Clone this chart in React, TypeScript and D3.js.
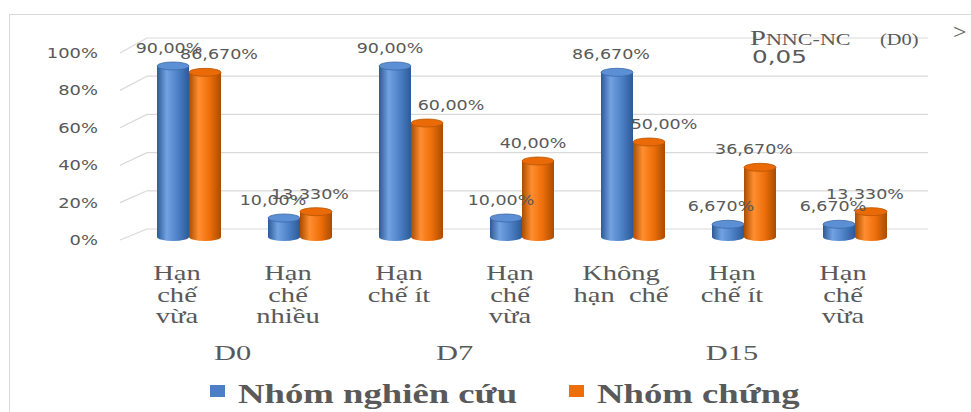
import React from 'react';
import * as d3 from 'd3';

const groups = ['D0', 'D7', 'D15'];
const categoryGroup = ['D0', 'D0', 'D7', 'D7', 'D15', 'D15', 'D15'];
const categoryLines = [
  ['Hạn', 'chế', 'vừa'],
  ['Hạn', 'chế', 'nhiều'],
  ['Hạn', 'chế ít'],
  ['Hạn', 'chế', 'vừa'],
  ['Không', 'hạn  chế'],
  ['Hạn', 'chế ít'],
  ['Hạn', 'chế', 'vừa']
];
const seriesNames = ['Nhóm nghiên cứu', 'Nhóm chứng'];
const studyValues = [0.9, 0.1, 0.9, 0.1, 0.8667, 0.0667, 0.0667];
const controlValues = [0.8667, 0.1333, 0.6, 0.4, 0.5, 0.3667, 0.1333];
const studyLabels = ['90,00%', '10,00%', '90,00%', '10,00%', '86,670%', '6,670%', '6,670%'];
const controlLabels = ['86,670%', '13,330%', '60,00%', '40,00%', '50,00%', '36,670%', '13,330%'];
const yTicks = [0, 0.2, 0.4, 0.6, 0.8, 1];

// manual label nudges, like the hand-moved labels in the original
const studyNudge = [-4, -11, -5, -5, -6, -7, -6];
const controlNudge = [14, -6, 24, -5, 15, -6, -6];

const W = 971;
const H = 412;
const GRAY = '#595959';
const SX = 1.33;
const SERIF = '"Liberation Serif", "Times New Roman", serif';
const SANS = '"DejaVu Sans", Verdana, sans-serif';

const T = ({ x, y, size, family = SERIF, weight = 'normal', anchor = 'middle', sx = SX, fill = GRAY, children }: any) => (
  <text
    transform={`translate(${x},${y}) scale(${sx},1)`}
    fontSize={size}
    fontFamily={family}
    fontWeight={weight}
    textAnchor={anchor}
    fill={fill}
  >
    {children}
  </text>
);

const colors = [
  { dark: '#2C5A96', light: '#72A2E2', main: '#4C80C6', top: '#5D8FD4', edge: '#3B6AA8' },
  { dark: '#A94C00', light: '#FF8E30', main: '#EE6E0A', top: '#EA6A08', edge: '#B95600' }
];

export default function App() {
  const x = d3.scaleBand<number>().domain(d3.range(categoryLines.length)).range([121.5, 898.5]);
  const yFront = d3.scaleLinear().domain([0, 1]).range([240, 53]);
  const yBack = d3.scaleLinear().domain([0, 1]).range([229, 38]);
  const yBar = d3.scaleLinear().domain([0, 1]).range([237, 47]);
  const barW = 32;
  const ry = 4;

  const cylinder = (cx: number, v: number, s: number, key: string) => {
    const top = yBar(v);
    const bottom = yBar(0);
    const c = colors[s];
    return (
      <g key={key}>
        <ellipse cx={cx} cy={bottom} rx={barW / 2} ry={ry} fill={`url(#g${s})`} />
        <rect x={cx - barW / 2} y={top} width={barW} height={bottom - top} fill={`url(#g${s})`} />
        <ellipse cx={cx} cy={top} rx={barW / 2} ry={ry} fill={c.top} stroke={c.edge} strokeWidth={0.8} />
      </g>
    );
  };

  const series = [
    { values: studyValues, labels: studyLabels, nudge: studyNudge, off: -barW / 2 },
    { values: controlValues, labels: controlLabels, nudge: controlNudge, off: barW / 2 }
  ];

  return (
    <svg width={W} height={H} style={{ position: 'absolute', left: 0, top: 0, background: '#fff' }}>
      <defs>
        {colors.map((c, i) => (
          <linearGradient key={i} id={`g${i}`} x1="0" x2="1" y1="0" y2="0">
            <stop offset="0" stopColor={c.dark} />
            <stop offset="0.3" stopColor={c.light} />
            <stop offset="0.65" stopColor={c.main} />
            <stop offset="1" stopColor={c.dark} />
          </linearGradient>
        ))}
      </defs>
      {/* chart frame */}
      <line x1={9} x2={W} y1={14.5} y2={14.5} stroke="#d9d9d9" />
      <line x1={9.5} x2={9.5} y1={14} y2={H} stroke="#d9d9d9" />

      {/* 3D gridlines: side wall diagonal + back wall */}
      {yTicks.map(t => (
        <g key={t}>
          <line x1={120} y1={yFront(t)} x2={147} y2={yBack(t)} stroke="#d9d9d9" strokeWidth={1.2} />
          <line x1={147} y1={yBack(t)} x2={928} y2={yBack(t)} stroke="#d9d9d9" strokeWidth={1.2} />
          <T x={98} y={yFront(t) + 5} size={14} family={SANS} anchor="end" sx={1.28}>
            {`${Math.round(t * 100)}%`}
          </T>
        </g>
      ))}

      {/* bars */}
      {categoryLines.map((_, i) => {
        const cx = (x(i) as number) + x.bandwidth() / 2 + 12;
        return series.map((s, k) => cylinder(cx + s.off, s.values[i], k, `b${i}-${k}`));
      })}

      {/* data labels */}
      {categoryLines.map((_, i) => {
        const cx = (x(i) as number) + x.bandwidth() / 2 + 12;
        return series.map((s, k) => (
          <T
            key={`l${i}-${k}`}
            x={cx + s.off + s.nudge[i]}
            y={yBar(s.values[i]) - ry - 9}
            size={14}
            family={SANS}
            sx={1.25}
          >
            {s.labels[i]}
          </T>
        ));
      })}

      {/* category labels */}
      {categoryLines.map((lines, i) => {
        const cx = (x(i) as number) + x.bandwidth() / 2;
        return lines.map((ln, j) => (
          <T key={`c${i}-${j}`} x={cx} y={280 + j * 21.5} size={21} sx={1.36}>
            <tspan style={{ whiteSpace: 'pre' }}>{ln}</tspan>
          </T>
        ));
      })}

      {/* group labels */}
      {groups.map(g => {
        const idx = categoryGroup.map((d, i) => (d === g ? i : -1)).filter(i => i >= 0);
        const first = idx[0];
        const last = idx[idx.length - 1];
        const cx = ((x(first) as number) + (x(last) as number) + x.bandwidth()) / 2;
        return (
          <T key={g} x={cx} y={360} size={21} sx={1.45}>
            {g}
          </T>
        );
      })}

      {/* p annotation */}
      <text transform="translate(750,45) scale(1.3,1)" fontFamily={SERIF} fill={GRAY}>
        <tspan fontSize={22}>P</tspan>
        <tspan fontSize={17}>NNC-NC</tspan>
      </text>
      <T x={880} y={45} size={17} anchor="start" sx={1.2}>(D0)</T>
      <T x={953} y={39} size={20} anchor="start" sx={1.2}>&gt;</T>
      <T x={752} y={63} size={18} family={SANS} anchor="start" sx={1.37}>0,05</T>

      {/* legend */}
      {seriesNames.map((n, k) => {
        const lx = k === 0 ? 210 : 569;
        return (
          <g key={n}>
            <rect x={lx} y={385} width={15} height={12} fill={colors[k].main} />
            <T x={lx + 28} y={403} size={27} weight="bold" anchor="start" sx={1.36}>
              {n}
            </T>
          </g>
        );
      })}
    </svg>
  );
}
